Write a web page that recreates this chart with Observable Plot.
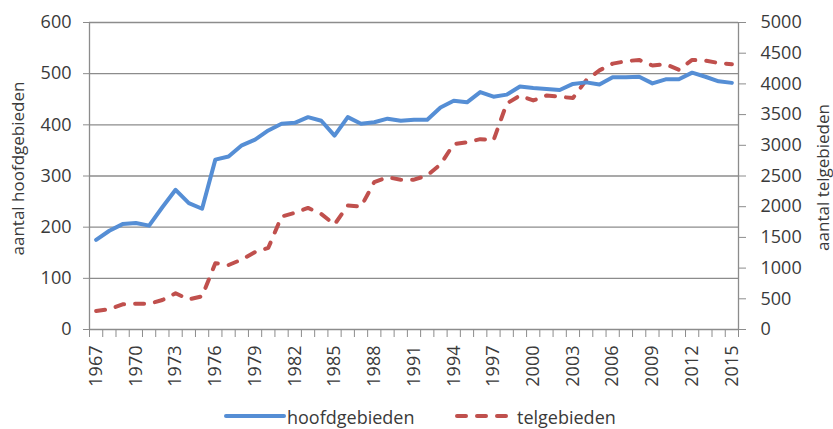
<!DOCTYPE html>
<html>
<head>
<meta charset="utf-8">
<script src="https://cdn.jsdelivr.net/npm/d3@7"></script>
<script src="https://cdn.jsdelivr.net/npm/@observablehq/plot@0.6"></script>
<style>
html, body { margin: 0; padding: 0; overflow: hidden; background: #fff; }
#wrap { position: relative; width: 833px; height: 429px; font-family: "Open Sans", sans-serif; }
#chart { position: absolute; left: 0; top: 0; }
.leg { position: absolute; font-size: 18px; line-height: 18px; color: #3a3a3a; white-space: nowrap; }
</style>
</head>
<body>
<div id="wrap"><div id="chart"></div><div id="legend"></div></div>
<script>
const years = [1967,1968,1969,1970,1971,1972,1973,1974,1975,1976,1977,1978,1979,1980,1981,1982,1983,1984,1985,1986,1987,1988,1989,1990,1991,1992,1993,1994,1995,1996,1997,1998,1999,2000,2001,2002,2003,2004,2005,2006,2007,2008,2009,2010,2011,2012,2013,2014,2015];
const hoofdgebieden = [175,193,206,208,203,239,273,247,236,332,338,360,371,389,402,404,415,408,379,415,402,405,412,408,410,410,434,447,444,464,455,459,475,472,470,468,480,483,479,493,493,494,481,489,489,502,494,485,482];
const telgebieden = [300,330,410,420,420,480,590,490,540,1080,1050,1140,1260,1330,1840,1900,1980,1880,1710,2020,2000,2400,2480,2440,2440,2510,2690,3020,3050,3100,3080,3680,3810,3730,3810,3790,3770,4060,4220,4330,4370,4390,4300,4320,4230,4390,4380,4340,4320];
const leftTicks = [0,100,200,300,400,500,600];
const rightTicks = [0,500,1000,1500,2000,2500,3000,3500,4000,4500,5000];
const labelYears = [1967,1970,1973,1976,1979,1982,1985,1988,1991,1994,1997,2000,2003,2006,2009,2012,2015];
const seriesNames = ["hoofdgebieden","telgebieden"];
const axisTitles = ["aantal hoofdgebieden","aantal telgebieden"];

const blue = "#558ED5", red = "#C0504D", grid = "#8c8c8c", ink = "#3a3a3a";
const k = 600 / 5000; // right-axis value -> left-axis scale
const data = years.map((y, i) => ({year: y, hoofd: hoofdgebieden[i], tel: telgebieden[i]}));
const bounds = [years[0] - 0.5, ...years.map(y => y + 0.5)];

const chart = Plot.plot({
  width: 833, height: 400,
  marginLeft: 89, marginRight: 95, marginTop: 22, marginBottom: 71,
  x: {type: "linear", domain: [years[0] - 0.5, years[years.length - 1] + 0.5]},
  y: {domain: [0, 600]},
  style: {fontFamily: "Open Sans", fontSize: "18px", color: ink, background: "#fff"},
  marks: [
    Plot.gridY(leftTicks, {stroke: grid, strokeOpacity: 1, strokeWidth: 1.3}),
    Plot.ruleX([bounds[0], bounds[bounds.length - 1]], {stroke: grid, strokeWidth: 1.3}),
    Plot.axisY(leftTicks, {anchor: "left", tickSize: 6, tickPadding: 12, label: null, stroke: grid, fill: ink}),
    Plot.axisY(rightTicks.map(v => v * k), {anchor: "right", tickSize: 7, tickPadding: 15, label: null, stroke: grid, fill: ink, tickFormat: d => String(Math.round(d / k))}),
    Plot.axisX(bounds, {tickSize: 8, tickFormat: () => "", label: null, stroke: grid}),
    Plot.axisX(labelYears, {tickSize: 0, tickPadding: 16, tickRotate: -90, label: null, fill: ink, tickFormat: d => String(d)}),
    Plot.line(data, {x: "year", y: d => d.tel * k, stroke: red, strokeWidth: 4, strokeDasharray: "9,11", strokeLinecap: "round"}),
    Plot.line(data, {x: "year", y: "hoofd", stroke: blue, strokeWidth: 4}),
    Plot.text([axisTitles[0]], {frameAnchor: "left", dx: -70.5, dy: -7.5, rotate: -90, textAnchor: "middle", lineAnchor: "middle", fill: ink, fontSize: 17}),
    Plot.text([axisTitles[1]], {frameAnchor: "right", dx: 85, dy: 1.5, rotate: -90, textAnchor: "middle", lineAnchor: "middle", fill: ink, fontSize: 17})
  ]
});
document.getElementById("chart").appendChild(chart);

const leg = document.getElementById("legend");
leg.innerHTML = `
<svg class="leg" style="left:224px;top:412px" width="62" height="8"><line x1="2" y1="4" x2="60" y2="4" stroke="${blue}" stroke-width="4" stroke-linecap="round"/></svg>
<div class="leg" style="left:287px;top:408px">${seriesNames[0]}</div>
<svg class="leg" style="left:453px;top:412px" width="62" height="8"><line x1="4" y1="4" x2="60" y2="4" stroke="${red}" stroke-width="4" stroke-dasharray="9,11" stroke-linecap="round"/></svg>
<div class="leg" style="left:517px;top:408px">${seriesNames[1]}</div>`;
</script>
</body>
</html>
